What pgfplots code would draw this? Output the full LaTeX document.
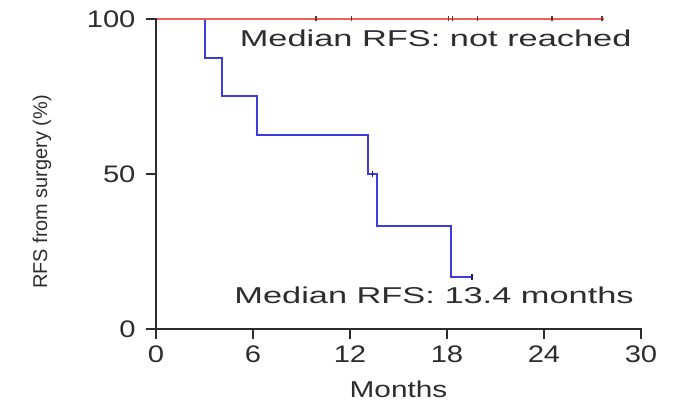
\documentclass[border=0pt]{standalone}
\usepackage{pgfplots}
\pgfplotsset{compat=1.18}
\usepackage{fontspec}
\setmainfont{Liberation Sans}
\usepackage{graphicx}
\definecolor{kmred}{RGB}{240,95,95}
\definecolor{kmblue}{RGB}{60,60,225}
\definecolor{axgray}{RGB}{45,45,45}
\newcommand\sa{\scalebox{1.5}[1]}
\newcommand\st{\scalebox{1.22}[1]}
\newcommand\sm{\scalebox{1.3}[1]}
\begin{document}
\begin{tikzpicture}
\begin{axis}[
  at={(0,0)}, anchor=south west,
  scale only axis, width=485bp, height=310bp,
  xmin=0, xmax=30, ymin=0, ymax=100,
  axis x line*=bottom, axis y line*=left,
  axis line style={line width=2.2bp, color=axgray},
  tick align=outside,
  major tick length=9bp,
  tick style={line width=1.8bp, color=axgray},
  xtick={0,6,12,18,24,30},
  xticklabels={\st{0},\st{6},\st{12},\st{18},\st{24},\st{30}},
  ytick={0,50,100},
  yticklabels={\st{0},\st{50},\st{100}},
  tick label style={font=\fontsize{24}{24}\selectfont, text=axgray},
  xticklabel style={yshift=-4bp},
  yticklabel style={xshift=-8bp},
  xlabel={\sm{Months}},
  xlabel style={font=\fontsize{23}{23}\selectfont, text=axgray, yshift=-12bp},
  clip mode=individual,
]
\addplot[kmblue, line width=2bp, const plot] coordinates {
(0,100) (3.03,87.5) (4.08,75) (6.25,62.5) (13.1,50) (13.67,33.3) (18.24,16.7) (19.54,16.7)
};
\addplot[kmblue!50!black, line width=1.5bp, only marks, mark=|, mark size=3bp] coordinates {
(13.4,50) (19.54,16.7)
};
\addplot[kmred, line width=2bp] coordinates {(0,100) (27.7,100)};
\addplot[kmred!50!black, line width=1.5bp, only marks, mark=|, mark size=2.5bp] coordinates {
(9.9,100) (12.1,100) (18.1,100) (18.35,100) (19.9,100) (24.5,100) (27.6,100)
};
\node[font=\fontsize{23}{23}\selectfont, text=axgray] at (axis cs:17.3,93.9) {\sa{Median RFS: not reached}};
\node[font=\fontsize{23}{23}\selectfont, text=axgray] at (axis cs:17.2,11) {\sa{Median RFS: 13.4 months}};
\end{axis}
\foreach \k in {0,1,2,3,4,5} {
  \fill[axgray] ({\k*97bp-1bp},1bp) rectangle ({\k*97bp+1bp},-10bp);
}
\foreach \k in {0,1,2} {
  \fill[axgray] (1bp,{\k*155bp-1bp}) rectangle (-10bp,{\k*155bp+1bp});
}
\node[rotate=90, font=\fontsize{20}{20}\selectfont, text=axgray] at (-114bp,137bp) {RFS from surgery (\%)};
\path (-156bp,-76bp) rectangle (525bp,329bp);
\end{tikzpicture}
\end{document}
